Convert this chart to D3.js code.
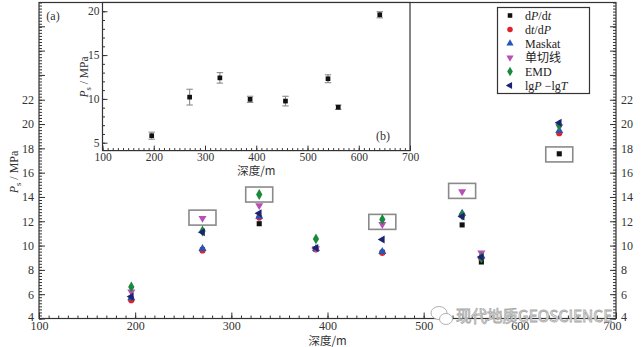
<!DOCTYPE html>
<html>
<head>
<meta charset="utf-8">
<script src="https://cdn.jsdelivr.net/npm/d3@7"></script>
<style>
  body { margin: 0; background: #fff; }
  svg { display: block; }
</style>
</head>
<body>
<svg id="chart" width="641" height="347"></svg>
<script>
// ---- data ----------------------------------------------------------------
// sampling depths (m)
const depths = [196, 270, 329, 388, 457, 540, 560, 641];

// closure stress Ps (MPa) picked by each method
const dPdt          = [5.6, 9.65, 11.8, 9.7, 9.45, 11.7, 8.65, 17.55];
const dtdP          = [5.5, 9.6, 12.3, 9.7, 9.4, 12.5, 8.95, 19.25];
const maskat        = [5.7, 9.75, 12.4, 9.75, 9.5, 12.65, 9.15, 19.45];
const singleTangent = [6.2, 12.25, 13.3, 9.75, 11.75, 14.45, 9.4, 19.8];
const emd           = [6.6, 11.2, 14.2, 10.55, 12.15, 12.5, 9.0, 19.9];
const lgPlgT        = [5.8, 11.1, 12.65, 9.8, 10.5, 12.4, 9.05, 20.1];

// outlying picks framed in the main panel
const highlightDepths = [270, 329, 457, 540, 641];
const highlightValues = [12.3, 14.2, 11.95, 14.5, 17.5];

// inset (b): adopted Ps with uncertainty
const insetMeans  = [5.8, 10.2, 12.4, 9.95, 9.75, 12.3, 9.05, 19.6];
const insetErrors = [0.4, 0.9, 0.6, 0.35, 0.55, 0.45, 0.25, 0.35];

// tick labels
const xTicks = [100, 200, 300, 400, 500, 600, 700];
const yTicks = [4, 6, 8, 10, 12, 14, 16, 18, 20, 22];
const insetYTicks = [5, 10, 15, 20];

// ---- styling ---------------------------------------------------------------
const SERIF = "'Liberation Serif','Times New Roman','Noto Sans CJK SC',serif";
const CJK = "'Noto Sans CJK SC','Liberation Serif',serif";
const INK = "#333";

const series = [
  { values: dPdt,          color: "#111111", type: d3.symbolSquare,   size: 26, rot: 0,
    label: [["d", false], ["P", true], ["/d", false], ["t", true]] },
  { values: dtdP,          color: "#e0202a", type: d3.symbolCircle,   size: 30, rot: 0,
    label: [["d", false], ["t", true], ["/d", false], ["P", true]] },
  { values: maskat,        color: "#2456b8", type: d3.symbolTriangle, size: 28, rot: 0,
    label: [["Maskat", false]] },
  { values: singleTangent, color: "#b84fb4", type: d3.symbolTriangle, size: 28, rot: 180,
    label: [["单切线", false]] },
  { values: emd,           color: "#178a3c", type: d3.symbolDiamond,  size: 34, rot: 0,
    label: [["EMD", false]] },
  { values: lgPlgT,        color: "#1c2370", type: d3.symbolTriangle, size: 28, rot: -90,
    label: [["lg", false], ["P", true], [" \u2212lg", false], ["T", true]] }
];

const svg = d3.select("#chart");

// ---- main panel (a) --------------------------------------------------------
const x = d3.scaleLinear().domain([100, 700]).range([39, 616]);
const y = d3.scaleLinear().domain([4, 30]).range([318.5, 2.5]);

function styleAxis(g, size) {
  g.attr("font-family", SERIF).attr("font-size", size).attr("color", INK);
  g.select(".domain").remove();
  g.selectAll("line").attr("stroke", INK).attr("stroke-width", 1);
}

// minor ticks
svg.append("g").attr("transform", `translate(0,${y(4)})`)
  .call(d3.axisBottom(x).tickValues(d3.range(100, 701, 10)).tickSize(-3).tickFormat(""))
  .call(g => styleAxis(g, 12));
svg.append("g").attr("transform", `translate(${x(100)},0)`)
  .call(d3.axisLeft(y).tickValues(d3.range(4, 30.01, 0.25)).tickSize(-3).tickFormat(""))
  .call(g => styleAxis(g, 12));
svg.append("g").attr("transform", `translate(${x(700)},0)`)
  .call(d3.axisRight(y).tickValues(d3.range(4, 30.01, 0.25)).tickSize(-3).tickFormat(""))
  .call(g => styleAxis(g, 12));

// major ticks + labels
svg.append("g").attr("transform", `translate(0,${y(4)})`)
  .call(d3.axisBottom(x).tickValues(xTicks).tickSize(-6).tickPadding(3).tickFormat(d3.format("d")))
  .call(g => styleAxis(g, 12))
  .call(g => g.selectAll(".tick text").filter(d => d === 700).attr("x", -4));
svg.append("g").attr("transform", `translate(${x(100)},0)`)
  .call(d3.axisLeft(y).tickValues(yTicks).tickSize(-6).tickPadding(5).tickFormat(d3.format("d")))
  .call(g => styleAxis(g, 12))
  .call(g => g.selectAll(".tick text").filter(d => d === 4).attr("y", -2));
svg.append("g").attr("transform", `translate(${x(700)},0)`)
  .call(d3.axisRight(y).tickValues(yTicks).tickSize(-6).tickPadding(5).tickFormat(d3.format("d")))
  .call(g => styleAxis(g, 12))
  .call(g => g.selectAll(".tick text").filter(d => d === 4).attr("y", -2));
// unlabeled major ticks above the labeled range
[24, 26, 28].forEach(v => {
  svg.append("line").attr("x1", x(100)).attr("x2", x(100) + 6).attr("y1", y(v)).attr("y2", y(v)).attr("stroke", INK);
  svg.append("line").attr("x1", x(700)).attr("x2", x(700) - 6).attr("y1", y(v)).attr("y2", y(v)).attr("stroke", INK);
});

// frame
svg.append("rect")
  .attr("x", x(100)).attr("y", y(30))
  .attr("width", x(700) - x(100)).attr("height", y(4) - y(30))
  .attr("fill", "none").attr("stroke", INK).attr("stroke-width", 1.2);

// highlight boxes
svg.append("g").selectAll("rect")
  .data(highlightDepths.map((d, i) => [d, highlightValues[i]]))
  .join("rect")
  .attr("x", d => x(d[0]) - 13.5).attr("y", d => y(d[1]) - 7.5)
  .attr("width", 27).attr("height", 15)
  .attr("fill", "none").attr("stroke", "#8a8a8a").attr("stroke-width", 1.6);

// points
series.forEach(s => {
  const sym = d3.symbol().type(s.type).size(s.size);
  svg.append("g").selectAll("path")
    .data(depths.map((d, i) => [d, s.values[i]]))
    .join("path")
    .attr("d", sym)
    .attr("transform", d => `translate(${x(d[0])},${y(d[1])}) rotate(${s.rot})`)
    .attr("fill", s.color);
});

// axis titles
function psTitle(g) {
  g.append("tspan").attr("font-style", "italic").text("P");
  g.append("tspan").attr("font-size", 8.5).attr("dy", 3).text("s");
  g.append("tspan").attr("dy", -3).text(" / MPa");
}
svg.append("text")
  .attr("transform", "translate(17.5,172) rotate(-90)")
  .attr("text-anchor", "middle").attr("font-family", SERIF).attr("font-size", 12).attr("fill", INK)
  .call(psTitle);
svg.append("text")
  .attr("x", (x(100) + x(700)) / 2).attr("y", 345)
  .attr("text-anchor", "middle").attr("font-family", CJK).attr("font-size", 11.5).attr("fill", INK)
  .text("深度/m");

svg.append("text").attr("x", 53).attr("y", 19.5)
  .attr("text-anchor", "middle").attr("font-family", SERIF).attr("font-size", 12).attr("fill", INK)
  .text("(a)");

// ---- inset (b) ---------------------------------------------------------------
const xi = d3.scaleLinear().domain([100, 700]).range([102.5, 410]);
const yi = d3.scaleLinear().domain([4.1, 21]).range([150.6, 2.5]);

svg.append("rect")
  .attr("x", xi(100)).attr("y", yi(21))
  .attr("width", xi(700) - xi(100)).attr("height", yi(4.1) - yi(21))
  .attr("fill", "#fff");

svg.append("g").attr("transform", `translate(0,${yi(4.1)})`)
  .call(d3.axisBottom(xi).tickValues(d3.range(100, 701, 10)).tickSize(-2.5).tickFormat(""))
  .call(g => styleAxis(g, 11.5));
svg.append("g").attr("transform", `translate(${xi(100)},0)`)
  .call(d3.axisLeft(yi).tickValues(d3.range(5, 21, 1)).tickSize(-2.5).tickFormat(""))
  .call(g => styleAxis(g, 11.5));
svg.append("g").attr("transform", `translate(0,${yi(4.1)})`)
  .call(d3.axisBottom(xi).tickValues(xTicks).tickSize(-5).tickPadding(2).tickFormat(d3.format("d")))
  .call(g => styleAxis(g, 11.5));
svg.append("g").attr("transform", `translate(${xi(100)},0)`)
  .call(d3.axisLeft(yi).tickValues(insetYTicks).tickSize(-5).tickPadding(3).tickFormat(d3.format("d")))
  .call(g => styleAxis(g, 11.5));

svg.append("rect")
  .attr("x", xi(100)).attr("y", yi(21))
  .attr("width", xi(700) - xi(100)).attr("height", yi(4.1) - yi(21))
  .attr("fill", "none").attr("stroke", INK).attr("stroke-width", 1.2);

// error bars
const eb = svg.append("g").attr("stroke", "#8a8a8a").attr("stroke-width", 1.1);
depths.forEach((d, i) => {
  const cx = xi(d), lo = yi(insetMeans[i] - insetErrors[i]), hi = yi(insetMeans[i] + insetErrors[i]);
  eb.append("line").attr("x1", cx).attr("x2", cx).attr("y1", lo).attr("y2", hi);
  eb.append("line").attr("x1", cx - 3.2).attr("x2", cx + 3.2).attr("y1", lo).attr("y2", lo);
  eb.append("line").attr("x1", cx - 3.2).attr("x2", cx + 3.2).attr("y1", hi).attr("y2", hi);
});
svg.append("g").selectAll("path")
  .data(depths.map((d, i) => [d, insetMeans[i]]))
  .join("path")
  .attr("d", d3.symbol().type(d3.symbolSquare).size(22))
  .attr("transform", d => `translate(${xi(d[0])},${yi(d[1])})`)
  .attr("fill", "#111");

svg.append("text")
  .attr("transform", "translate(87.5,77) rotate(-90)")
  .attr("text-anchor", "middle").attr("font-family", SERIF).attr("font-size", 11.5).attr("fill", INK)
  .call(psTitle);
svg.append("text")
  .attr("x", (xi(100) + xi(700)) / 2).attr("y", 175)
  .attr("text-anchor", "middle").attr("font-family", CJK).attr("font-size", 11.5).attr("fill", INK)
  .text("深度/m");
svg.append("text").attr("x", 383).attr("y", 140)
  .attr("text-anchor", "middle").attr("font-family", SERIF).attr("font-size", 12).attr("fill", INK)
  .text("(b)");

// ---- legend ----------------------------------------------------------------
const lg = svg.append("g");
lg.append("rect").attr("x", 497.5).attr("y", 7.5).attr("width", 92).attr("height", 86)
  .attr("fill", "#fff").attr("stroke", INK).attr("stroke-width", 1.2);
series.forEach((s, i) => {
  const ry = 15.5 + i * 14;
  lg.append("path")
    .attr("d", d3.symbol().type(s.type).size(s.size * 0.8))
    .attr("transform", `translate(510,${ry}) rotate(${s.rot})`)
    .attr("fill", s.color);
  const t = lg.append("text").attr("x", 525).attr("y", ry + 4.2)
    .attr("font-family", SERIF).attr("font-size", 12).attr("fill", "#222");
  s.label.forEach(([str, it]) => {
    t.append("tspan").attr("font-style", it ? "italic" : "normal").text(str);
  });
});

// ---- masthead mark -------------------------------------------------------------
const wm = svg.append("g").attr("fill", "#fff").attr("stroke", "#a8a8a8").attr("stroke-width", 0.9);
wm.append("ellipse").attr("cx", 439).attr("cy", 313).attr("rx", 8).attr("ry", 6.5);
wm.append("ellipse").attr("cx", 446).attr("cy", 319).attr("rx", 6.5).attr("ry", 5.5);
wm.append("text").attr("x", 456).attr("y", 321.5)
  .attr("font-family", CJK).attr("font-size", 15.5).attr("stroke-width", 0.8)
  .text("现代地质GEOSCIENCE");
</script>
</body>
</html>
